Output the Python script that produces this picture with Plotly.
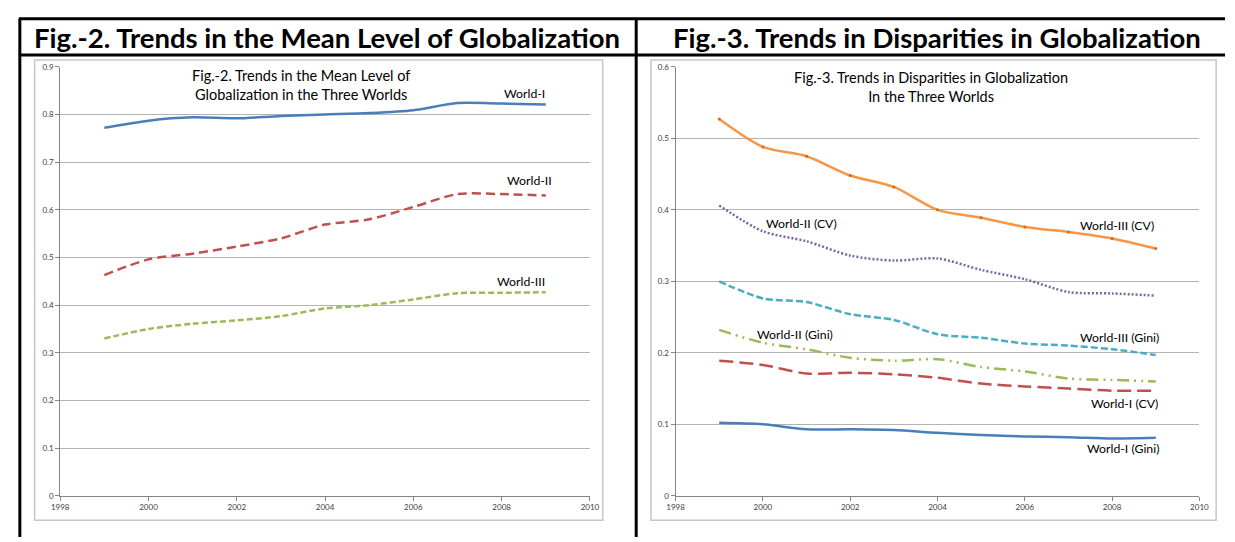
import plotly.graph_objects as go

W, H = 1235, 542

years = [1999, 2000, 2001, 2002, 2003, 2004, 2005, 2006, 2007, 2008, 2009]

# Fig.-2: mean level of globalization
world1_mean = [0.772, 0.787, 0.794, 0.792, 0.797, 0.800, 0.803, 0.809, 0.824, 0.823, 0.821]
world2_mean = [0.463, 0.496, 0.508, 0.523, 0.540, 0.569, 0.580, 0.606, 0.633, 0.633, 0.630]
world3_mean = [0.330, 0.350, 0.361, 0.368, 0.377, 0.393, 0.400, 0.412, 0.425, 0.426, 0.427]

# Fig.-3: disparities in globalization
world3_cv = [0.527, 0.488, 0.475, 0.448, 0.432, 0.400, 0.389, 0.376, 0.369, 0.360, 0.346]
world2_cv = [0.406, 0.370, 0.356, 0.336, 0.329, 0.332, 0.316, 0.303, 0.285, 0.283, 0.280]
world3_gini = [0.300, 0.276, 0.271, 0.254, 0.246, 0.226, 0.221, 0.213, 0.210, 0.205, 0.197]
world2_gini = [0.232, 0.214, 0.205, 0.193, 0.189, 0.191, 0.180, 0.174, 0.164, 0.162, 0.160]
world1_cv = [0.189, 0.183, 0.171, 0.172, 0.170, 0.165, 0.157, 0.153, 0.150, 0.147, 0.147]
world1_gini = [0.102, 0.100, 0.093, 0.093, 0.092, 0.088, 0.085, 0.083, 0.082, 0.080, 0.081]

FONT = "Lato"


def px(x):
    return x / W


def py(y):
    return 1 - y / H


fig = go.Figure()


def add_line(x, y, color, dash, axis, width=2.5, markers=False):
    fig.add_trace(go.Scatter(
        x=x, y=y,
        mode="lines+markers" if markers else "lines",
        line=dict(color=color, width=width, dash=dash, shape="spline", smoothing=0.8),
        marker=dict(size=3, color="#d9661a"),
        xaxis="x" + axis, yaxis="y" + axis,
        showlegend=False, hoverinfo="x+y",
    ))


add_line(years, world1_mean, "#4a7ebb", "solid", "")
add_line(years, world2_mean, "#c0504d", "9px,5px", "")
add_line(years, world3_mean, "#9bbb59", "6px,3px", "")

add_line(years, world3_cv, "#f79646", "solid", "2", markers=True)
add_line(years, world2_cv, "#8064a2", "2px,2px", "2")
add_line(years, world3_gini, "#4bacc6", "7px,3px", "2")
add_line(years, world2_gini, "#9bbb59", "12px,5px,2px,5px,2px,5px", "2")
add_line(years, world1_cv, "#c0504d", "14px,6px", "2")
add_line(years, world1_gini, "#4a7ebb", "solid", "2")

axis_common = dict(
    showline=True, linecolor="#868686", linewidth=1,
    ticks="outside", ticklen=4, tickcolor="#868686",
    tickfont=dict(family=FONT, size=8, color="#404040"),
    zeroline=False,
)
y_dom = [py(500), py(63)]

fig.update_layout(
    width=W, height=H,
    margin=dict(l=0, r=0, t=0, b=0),
    paper_bgcolor="white", plot_bgcolor="white",
    xaxis=dict(domain=[px(52), px(590)], range=[1998, 2010], dtick=2, showgrid=False,
               anchor="y", **axis_common),
    yaxis=dict(domain=y_dom, range=[0, 0.9], dtick=0.1, showgrid=True,
               gridcolor="#b3b3b3", anchor="x", **axis_common),
    xaxis2=dict(domain=[px(677), px(1209)], range=[1998, 2010], dtick=2, showgrid=False,
                anchor="y2", **axis_common),
    yaxis2=dict(domain=y_dom, range=[0, 0.6], dtick=0.1, showgrid=True,
                gridcolor="#b3b3b3", anchor="x2", **axis_common),
)

# table borders and chart boxes
black = dict(color="black", width=3)
shapes = [
    dict(type="line", x0=px(10), x1=1, y0=py(14), y1=py(14), line=black),
    dict(type="line", x0=px(10), x1=1, y0=py(51), y1=py(51), line=black),
    dict(type="line", x0=px(11), x1=px(11), y0=py(14), y1=0, line=black),
    dict(type="line", x0=px(637), x1=px(637), y0=py(14), y1=0, line=black),
    dict(type="rect", x0=px(26), x1=px(603), y0=py(525), y1=py(56),
         line=dict(color="#c6c6c6", width=1.5)),
    dict(type="rect", x0=px(652), x1=px(1226), y0=py(525), y1=py(56),
         line=dict(color="#c6c6c6", width=1.5)),
]
for s in shapes:
    s.update(xref="paper", yref="paper")
fig.update_layout(shapes=shapes)


def note(x, y, text, size, bold=False):
    if bold:
        text = "<b>" + text + "</b>"
    fig.add_annotation(x=px(x), y=py(y), xref="paper", yref="paper", text=text,
                       showarrow=False, xanchor="center", yanchor="middle",
                       font=dict(family=FONT, size=size, color="black"))


note(323, 33, "Fig.-2. Trends in the Mean Level of Globalization", 27.5, bold=True)
note(943, 33, "Fig.-3. Trends in Disparities in Globalization", 27.5, bold=True)

note(297, 82, "Fig.-2. Trends in the Mean Level of<br>Globalization in the Three Worlds", 14.5)
note(936, 84, "Fig.-3. Trends in Disparities in Globalization<br>In the Three Worlds", 14.5)

note(524, 90, "World-I", 12.3)
note(529, 179, "World-II", 12.3)
note(520, 282, "World-III", 12.3)

note(805, 223, "World-II (CV)", 12.3)
note(1125, 225, "World-III (CV)", 12.3)
note(798, 336, "World-II (Gini)", 12.3)
note(1128, 339, "World-III (Gini)", 12.3)
note(1133, 406, "World-I (CV)", 12.3)
note(1131, 452, "World-I (Gini)", 12.3)

# drop the default body margin so the figure fills the window exactly
fig.write_html("out.html", post_script="document.body.style.margin = '0';",
               config={"displayModeBar": False})
